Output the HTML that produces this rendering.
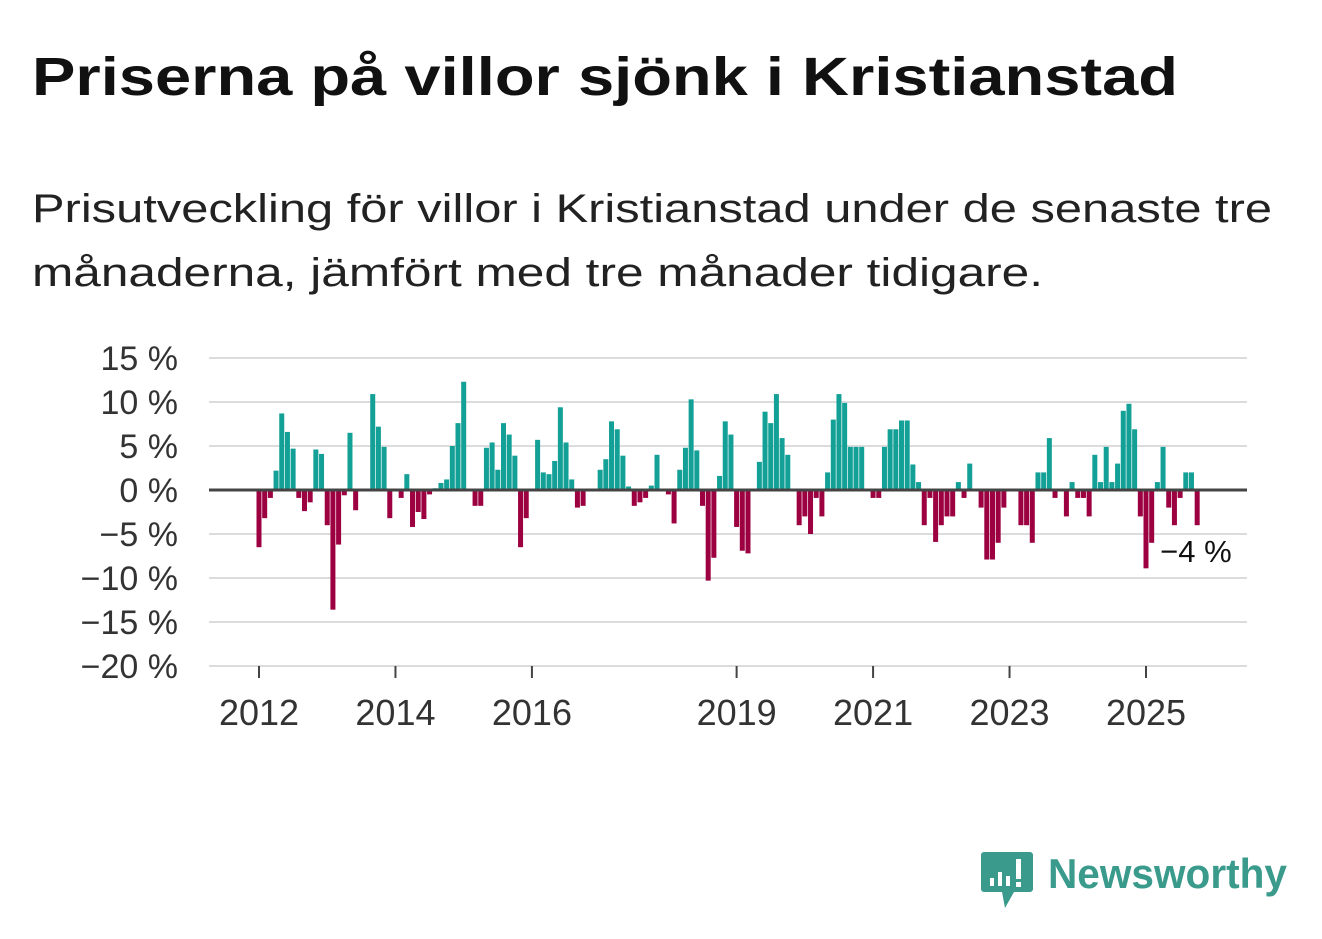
<!DOCTYPE html>
<html><head><meta charset="utf-8"><style>
html,body{margin:0;padding:0;background:#fff;}
svg{display:block;font-family:"Liberation Sans",sans-serif;}
</style></head><body>
<svg id="chart" width="1322" height="939" viewBox="0 0 1322 939" xmlns="http://www.w3.org/2000/svg">
<text x="32" y="95" font-size="54" font-weight="bold" fill="#111" textLength="1146" lengthAdjust="spacingAndGlyphs">Priserna på villor sjönk i Kristianstad</text>
<text x="32" y="222" font-size="40" fill="#222" textLength="1240" lengthAdjust="spacingAndGlyphs">Prisutveckling för villor i Kristianstad under de senaste tre</text>
<text x="32" y="286" font-size="40" fill="#222" textLength="1011" lengthAdjust="spacingAndGlyphs">månaderna, jämfört med tre månader tidigare.</text>
<g id="grid"></g>
<g id="bars"></g>
<g id="axes"></g>
<g>
<path d="M984 852 h46 a3 3 0 0 1 3 3 v34 a3 3 0 0 1 -3 3 h-16 l-9 16 l-3 -16 h-18 a3 3 0 0 1 -3 -3 v-34 a3 3 0 0 1 3 -3z" fill="#3a9a8c"/>
<rect x="990" y="878" width="4" height="8" fill="#fff"/>
<rect x="998" y="872" width="4" height="14" fill="#fff"/>
<rect x="1006" y="876" width="4" height="10" fill="#fff"/>
<rect x="1016" y="859" width="5" height="20" fill="#fff"/>
<rect x="1016" y="882" width="5" height="5" fill="#fff"/>
<text x="1048" y="888" font-size="42" font-weight="bold" fill="#3a9a8c" textLength="239" lengthAdjust="spacingAndGlyphs">Newsworthy</text>
</g>
</svg>
<script>
const values = [-6.5,-3.2,-0.9,2.2,8.7,6.6,4.7,-0.9,-2.4,-1.4,4.6,4.1,-4,-13.6,-6.2,-0.6,6.5,-2.3,0,0,10.9,7.2,4.9,-3.2,0,-0.9,1.8,-4.2,-2.5,-3.3,-0.5,0.2,0.8,1.2,5,7.6,12.3,0,-1.8,-1.8,4.8,5.4,2.3,7.6,6.3,3.9,-6.5,-3.2,0,5.7,2.0,1.8,3.3,9.4,5.4,1.2,-2.0,-1.8,0,0,2.3,3.5,7.8,6.9,3.9,0.4,-1.8,-1.4,-0.9,0.5,4.0,0,-0.5,-3.8,2.3,4.8,10.3,4.5,-1.8,-10.3,-7.7,1.6,7.8,6.3,-4.2,-6.9,-7.2,0,3.2,8.9,7.6,10.9,5.9,4.0,0,-4,-3,-5,-0.9,-3,2,8,10.9,9.9,4.9,4.9,4.9,0,-0.9,-0.9,4.9,6.9,6.9,7.9,7.9,2.9,0.9,-4,-0.9,-5.9,-4,-3,-3,0.9,-0.9,3.0,0,-2,-7.9,-7.9,-6,-2,0,0,-4,-4,-6,2,2,5.9,-0.9,0,-3,0.9,-0.9,-0.9,-3,4,0.9,4.9,0.9,3,9,9.8,6.9,-3,-8.9,-6,0.9,4.9,-2,-4,-0.9,2,2,-4];
const startYear = 2012;
const yTicks = [15,10,5,0,-5,-10,-15,-20];
const yTickLabels = ["15 %","10 %","5 %","0 %","−5 %","−10 %","−15 %","−20 %"];
const xTickYears = [2012,2014,2016,2019,2021,2023,2025];
const lastLabel = "−4 %";

const NS="http://www.w3.org/2000/svg";
const X0=259, PX_MONTH=887/156, Y0=490, PX_PCT=8.8;
const xScale = i => X0 + i*PX_MONTH;
const yScale = v => Y0 - v*PX_PCT;
function mk(tag, attrs, parent){const e=document.createElementNS(NS,tag);for(const k in attrs)e.setAttribute(k,attrs[k]);parent.appendChild(e);return e;}
const grid=document.getElementById('grid'), bars=document.getElementById('bars'), axes=document.getElementById('axes');

yTicks.forEach((t,i)=>{
  const y=yScale(t);
  if(t!==0){
    const l=mk('line',{x1:209,x2:1247,y1:y,y2:y,stroke:'#dcdcdc','stroke-width':2},grid);
    
    
  }
  const tx=mk('text',{x:178,y:y+12,'text-anchor':'end','font-size':34,fill:'#333'},axes);
  tx.textContent=yTickLabels[i];
  
  
});

values.forEach((v,i)=>{
  const x=xScale(i)-2.5;
  const y1=yScale(Math.max(v,0)), y2=yScale(Math.min(v,0));
  const r=mk('rect',{x:x,y:y1,width:5,height:Math.max(y2-y1,0),fill:v>=0?'#13a096':'#9c0040'},bars);
  
  
});

const zl=mk('line',{x1:209,x2:1247,y1:Y0,y2:Y0,stroke:'#444','stroke-width':3},axes);



xTickYears.forEach(yr=>{
  const x=xScale((yr-startYear)*12);
  const tk=mk('line',{x1:x,x2:x,y1:666,y2:678,stroke:'#444','stroke-width':2},axes);
  
  
  const tx=mk('text',{x:x,y:725,'text-anchor':'middle','font-size':36,fill:'#333'},axes);
  tx.textContent=String(yr);
  
  
});

const li=values.length-1;
const lb=mk('text',{x:xScale(li)-37,y:yScale(values[li])+37,'font-size':31,fill:'#111'},axes);
lb.textContent=lastLabel;


</script>
</body></html>
